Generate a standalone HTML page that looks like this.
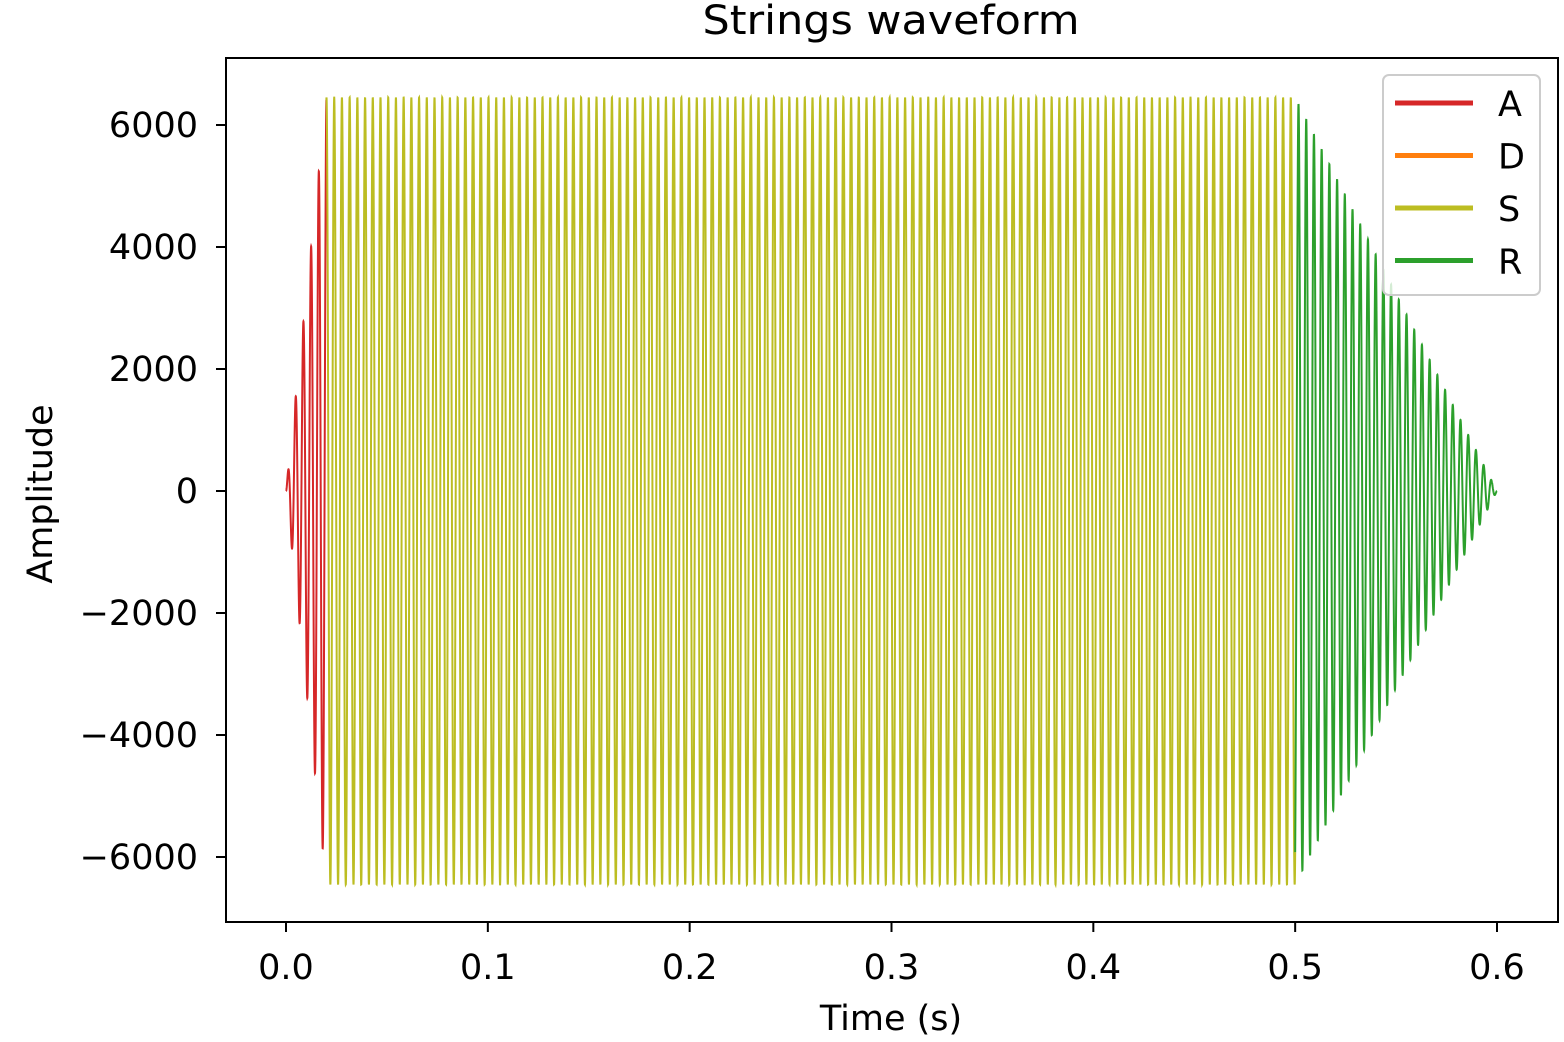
<!DOCTYPE html>
<html><head><meta charset="utf-8"><style>
body{margin:0;background:#fff;}
svg{display:block;font-family:"DejaVu Sans","Liberation Sans",sans-serif;}
</style></head><body>
<svg id="chart" width="1564" height="1042" viewBox="0 0 1564 1042">
<text x="891" y="34" font-size="40" text-anchor="middle" textLength="377" lengthAdjust="spacingAndGlyphs">Strings waveform</text>
<g id="plot"></g>
<rect x="226" y="58" width="1332" height="864" fill="none" stroke="#000" stroke-width="2"/>
<g id="xticks"></g>
<g id="yticks"></g>
<text x="891" y="1030" font-size="35" text-anchor="middle">Time (s)</text>
<text transform="translate(52,494) rotate(-90)" font-size="35" text-anchor="middle">Amplitude</text>
<g id="legend">
<rect x="1383" y="75" width="157" height="220" rx="6" fill="#fff" fill-opacity="0.8" stroke="#ccc" stroke-width="2"/>
</g>
</svg>
<script>
const segmentNames = ["A","D","S","R"];
const segmentColors = ["#d62728","#ff7f0e","#bcbd22","#2ca02c"];
const segmentStart = [0, 0.02, 0.02, 0.5];
const segmentEnd = [0.02, 0.02, 0.5, 0.6];
const levelStart = [0, 6450, 6450, 6450];
const levelEnd = [6450, 6450, 6450, 0];
const frequency = [261.63];
const sampleRate = [44100];
const xTicks = [0,0.1,0.2,0.3,0.4,0.5,0.6];
const xTickLabels = ["0.0","0.1","0.2","0.3","0.4","0.5","0.6"];
const yTicks = [6000,4000,2000,0,-2000,-4000,-6000];
const yTickLabels = ["6000","4000","2000","0","\u22122000","\u22124000","\u22126000"];

const NS="http://www.w3.org/2000/svg";
const xs = t => 286 + t*(1497-286)/0.6;
const ys = v => 491 - v*(857-125)/12000;

const plot=document.getElementById('plot');
segmentNames.forEach((name,i)=>{
  const t0=segmentStart[i], t1=segmentEnd[i];
  const n=Math.round((t1-t0)*sampleRate[0]);
  if(n<=0) return;
  const pts=[];
  for(let k=0;k<=n;k++){
    const t=t0+k/sampleRate[0];
    const env=levelStart[i]+(levelEnd[i]-levelStart[i])*(k/n);
    const v=env*Math.sin(2*Math.PI*frequency[0]*t);
    pts.push(xs(t).toFixed(2)+","+ys(v).toFixed(2));
  }
  const pl=document.createElementNS(NS,'polyline');
  pl.setAttribute('points',pts.join(' '));
  pl.setAttribute('fill','none');
  pl.setAttribute('stroke',segmentColors[i]);
  pl.setAttribute('stroke-width','2');
  
  
  plot.appendChild(pl);
});

const xg=document.getElementById('xticks');
xTicks.forEach((t,i)=>{
  const l=document.createElementNS(NS,'line');
  l.setAttribute('x1',xs(t));l.setAttribute('x2',xs(t));
  l.setAttribute('y1',922);l.setAttribute('y2',932);
  l.setAttribute('stroke','#000');l.setAttribute('stroke-width','2');
  
  
  xg.appendChild(l);
  const tx=document.createElementNS(NS,'text');
  tx.setAttribute('x',xs(t));tx.setAttribute('y',979);
  tx.setAttribute('font-size','35');tx.setAttribute('text-anchor','middle');
  tx.textContent=xTickLabels[i];
  
  
  xg.appendChild(tx);
});
const yg=document.getElementById('yticks');
yTicks.forEach((v,i)=>{
  const l=document.createElementNS(NS,'line');
  l.setAttribute('x1',216);l.setAttribute('x2',226);
  l.setAttribute('y1',ys(v));l.setAttribute('y2',ys(v));
  l.setAttribute('stroke','#000');l.setAttribute('stroke-width','2');
  
  
  yg.appendChild(l);
  const tx=document.createElementNS(NS,'text');
  tx.setAttribute('x',198);tx.setAttribute('y',ys(v)+12);
  tx.setAttribute('font-size','35');tx.setAttribute('text-anchor','end');
  tx.textContent=yTickLabels[i];
  
  
  yg.appendChild(tx);
});
const lg=document.getElementById('legend');
segmentNames.forEach((name,i)=>{
  const y=103+i*52.5;
  const l=document.createElementNS(NS,'line');
  l.setAttribute('x1',1395);l.setAttribute('x2',1473);
  l.setAttribute('y1',y);l.setAttribute('y2',y);
  l.setAttribute('stroke',segmentColors[i]);l.setAttribute('stroke-width','5');
  
  
  lg.appendChild(l);
  const tx=document.createElementNS(NS,'text');
  tx.setAttribute('x',1498);tx.setAttribute('y',y+13);
  tx.setAttribute('font-size','35');
  tx.textContent=name;
  
  
  lg.appendChild(tx);
});
</script>
</body></html>
